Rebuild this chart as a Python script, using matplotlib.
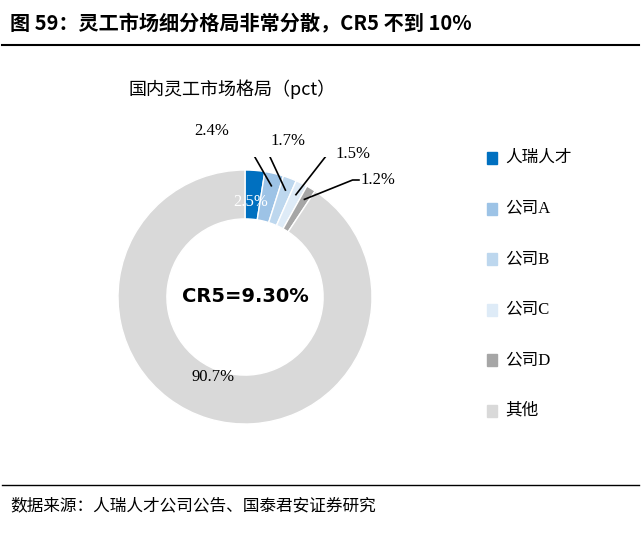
import matplotlib
matplotlib.use("Agg")
import matplotlib.pyplot as plt
import numpy as np

categories = ["人瑞人才", "公司A", "公司B", "公司C", "公司D", "其他"]
values = [2.5, 2.4, 1.7, 1.5, 1.2, 90.7]
colors = ["#0070C0", "#9DC3E6", "#BDD7EE", "#DEEBF7", "#A6A6A6", "#D9D9D9"]

W, H = 641, 536
fig = plt.figure(figsize=(W/100, H/100), dpi=100)
cjk = "Noto Sans CJK SC"
serif = "Liberation Serif"

def fx(x): return x / W
def fy(y): return 1 - y / H

# header & footer
fig.text(fx(10), fy(24), "图 59：灵工市场细分格局非常分散，CR5 不到 10%", fontsize=14.5,
         fontweight="bold", family=cjk, va="center", ha="left")
fig.add_artist(plt.Line2D([fx(2), fx(639)], [fy(45), fy(45)], color="black", lw=1.5))
fig.add_artist(plt.Line2D([fx(2), fx(639)], [fy(485), fy(485)], color="black", lw=1.0))
fig.text(fx(10), fy(506), "数据来源：人瑞人才公司公告、国泰君安证券研究", fontsize=12,
         family=cjk, va="center", ha="left")
fig.text(fx(232), fy(89), "国内灵工市场格局（pct）", fontsize=13, family=cjk, va="center", ha="center")

cx, cy, R = 245, 297, 127
m = 140
ax = fig.add_axes([fx(cx - m), 1 - (cy + m) / H, 2 * m / W, 2 * m / H])
wedges, _ = ax.pie(values, colors=colors, startangle=90, counterclock=False, radius=1,
                   wedgeprops=dict(width=0.385, edgecolor="white", linewidth=1))
ax.set_xlim(-m / R, m / R); ax.set_ylim(-m / R, m / R); ax.set_aspect("equal")
ax.axis("off")
ax.text(0, 0, "CR5=9.30%", ha="center", va="center", fontsize=14, fontweight="bold")

# labels
tot = sum(values)
cum = 0
mids = []
for v in values:
    a = 90 - (cum + v / 2) / tot * 360
    mids.append(np.deg2rad(a)); cum += v
ax.text(0.85 * np.cos(mids[0]) - 0.02, 0.8 * np.sin(mids[0]) - 0.05, f"{values[0]}%",
        color="white", fontsize=12, family=serif, ha="center", va="center")
texts = [(212, 131), (288, 141), (353, 154), (378, 180)]
for i, (tx, ty) in enumerate(texts, start=1):
    px = np.cos(mids[i]) * 0.9; py = np.sin(mids[i]) * 0.9
    txd = (tx - cx) / R; tyd = (cy - ty) / R
    ax.text(txd, tyd, f"{values[i]}%", fontsize=12, family=serif, ha="center", va="center")
    hx = txd - 0.2 if i > 1 else txd + 0.22
    ax.plot([hx + (0.05 if i > 1 else -0.05), hx, px], [tyd, tyd, py], color="black", lw=1.2)
ax.text(-0.25, -0.63, f"{values[5]}%", fontsize=12, family=serif, ha="center", va="center")

# legend
for i, (c, col) in enumerate(zip(categories, colors)):
    y = 158 + i * 50.5
    fig.patches.append(plt.Rectangle((fx(487), fy(y + 6)), 10 / W, 12 / H, color=col,
                                     transform=fig.transFigure))
    fig.text(fx(505), fy(y), c, fontsize=12, family=[serif, cjk], va="center", ha="left")

fig.savefig("out.png", dpi=100)
